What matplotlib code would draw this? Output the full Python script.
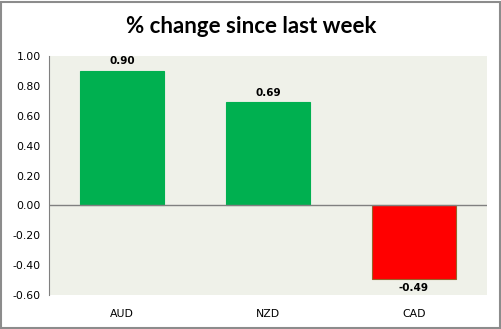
import matplotlib.pyplot as plt
from matplotlib.patches import Rectangle

currencies = ['AUD', 'NZD', 'CAD']
changes = [0.90, 0.69, -0.49]
yticks = [-0.6, -0.4, -0.2, 0.0, 0.2, 0.4, 0.6, 0.8, 1.0]

fig = plt.figure(figsize=(5.02, 3.29), dpi=100)
fig.patch.set_facecolor('white')
fig.patches.append(Rectangle((0.002, 0.003), 0.994, 0.992, transform=fig.transFigure,
                             fill=False, edgecolor='#8c8c8c', linewidth=1.5))

ax = fig.add_axes([0.098, 0.103, 0.872, 0.727])
ax.set_facecolor('#eff1e9')

colors = ['#00b050' if v >= 0 else '#ff0000' for v in changes]
edges = ['#00b050' if v >= 0 else '#98622a' for v in changes]
x = range(len(currencies))
bars = ax.bar(x, changes, width=0.58, color=colors, edgecolor=edges, linewidth=0.8)

for b, v in zip(bars, changes):
    if v >= 0:
        ax.text(b.get_x() + b.get_width() / 2, v + 0.03, '%.2f' % v,
                ha='center', va='bottom', fontsize=7.5, fontweight='bold')
    else:
        ax.text(b.get_x() + b.get_width() / 2, v - 0.03, '%.2f' % v,
                ha='center', va='top', fontsize=7.5, fontweight='bold')

ax.axhline(0, color='#808080', linewidth=1)
ax.set_xlim(-0.5, 2.5)
ax.set_ylim(-0.6, 1.0)
ax.set_yticks(yticks)
ax.set_yticklabels(['%.2f' % t for t in yticks], fontsize=7.8)
ax.set_xticks(list(x))
ax.set_xticklabels(currencies, fontsize=7.8)
ax.tick_params(axis='both', length=0, pad=6)
ax.tick_params(axis='x', pad=10)

for s in ['top', 'right', 'bottom']:
    ax.spines[s].set_visible(False)
ax.spines['left'].set_color('#808080')

fig.text(0.5, 0.918, '% change since last week', ha='center', va='center',
         fontsize=16, fontweight='bold', family=['Lato', 'DejaVu Sans'])

fig.savefig('out.png', dpi=100)
